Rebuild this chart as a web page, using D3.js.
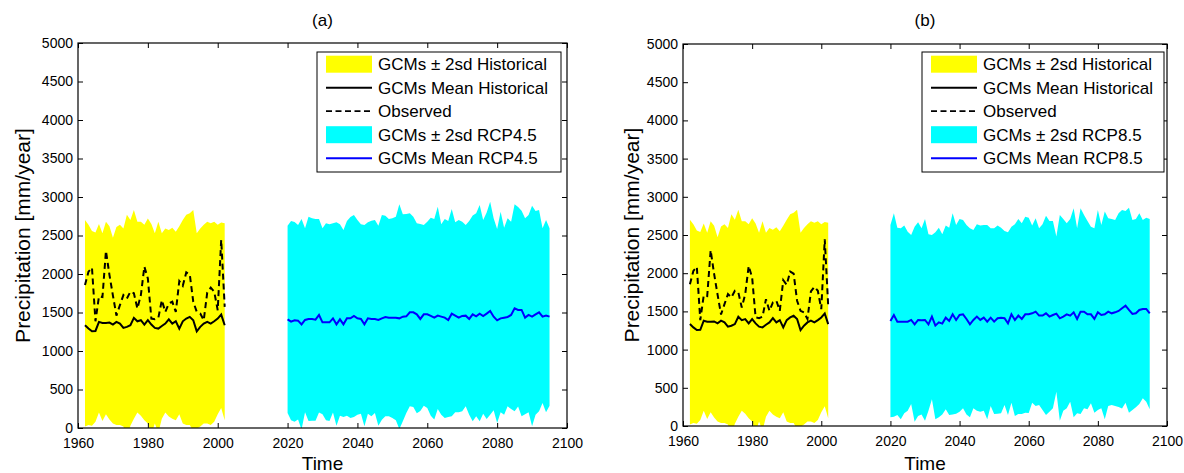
<!DOCTYPE html>
<html>
<head>
<meta charset="utf-8">
<script src="https://cdn.jsdelivr.net/npm/d3@7"></script>
<style>
  body { margin: 0; background: #fff; }
  text { font-family: "Liberation Sans", Arial, sans-serif; fill: #000; }
</style>
</head>
<body>
<div id="chart-container"></div>
<script>
// years: historical 1962-2002, projections 2020-2095
const histStart = 1962;
const futStart = 2020;

// historical (same in both panels)
const histUpper = [2700,2640,2560,2540,2650,2530,2680,2620,2470,2610,2640,
  2590,2770,2700,2830,2680,2680,2640,2720,2650,2530,
  2680,2530,2590,2570,2600,2550,2620,2700,2770,2790,
  2830,2530,2590,2640,2680,2660,2680,2640,2670,2660];
const histLower = [20,40,30,80,200,90,180,110,60,40,40,
  20,-120,30,120,200,160,100,60,-80,60,
  -60,120,200,150,120,100,180,60,40,40,
  -40,-10,20,60,60,40,80,180,260,100];
const histMean = [1334,1291,1256,1260,1378,1365,1365,1369,1343,1378,1356,
  1300,1313,1334,1430,1386,1400,1343,1400,1343,1300,
  1291,1325,1356,1412,1356,1386,1291,1386,1421,1443,
  1400,1256,1313,1356,1378,1356,1386,1421,1473,1334];
const observed = [1856,2030,2082,1386,1710,1700,2300,1990,1720,1460,1595,
  1726,1682,1770,1750,1552,1726,2095,1943,1421,1412,
  1430,1660,1508,1617,1640,1508,1908,1847,2021,1995,
  1640,1508,1487,1400,1761,1822,1770,1530,2443,1573];

// RCP4.5
const rcp45Upper = [2628,2688,2675,2636,2714,2593,2745,2723,2714,2714,
  2593,2658,2645,2660,2671,2645,2571,2688,2740,2766,
  2701,2645,2636,2671,2690,2701,2628,2766,2758,2714,
  2725,2745,2905,2775,2780,2788,2745,2658,2650,2636,
  2680,2732,2714,2874,2645,2714,2688,2844,2671,2701,
  2680,2636,2688,2760,2788,2896,2701,2800,2939,2723,
  2584,2809,2602,2723,2680,2905,2870,2820,2723,2766,
  2887,2818,2831,2593,2701,2593];
const rcp45Lower = [195,100,80,110,-20,203,90,95,95,200,
  180,100,90,200,30,160,143,160,130,143,
  173,186,22,186,152,195,30,108,152,152,
  130,100,-13,87,195,281,273,190,220,290,
  260,160,110,247,173,130,143,152,203,203,
  216,281,173,87,152,87,186,117,173,229,
  65,203,173,281,247,216,280,152,180,203,
  22,173,216,325,203,290];
const rcp45Mean = [1411,1381,1398,1394,1346,1403,1416,1416,1407,1468,
  1372,1372,1372,1424,1346,1411,1346,1424,1424,1455,
  1424,1416,1346,1424,1416,1416,1403,1424,1442,1433,
  1433,1433,1424,1446,1450,1502,1502,1476,1416,1476,
  1476,1455,1433,1459,1446,1433,1403,1485,1459,1433,
  1455,1459,1416,1476,1450,1485,1455,1485,1520,1446,
  1398,1424,1433,1442,1468,1554,1533,1533,1433,1468,
  1446,1476,1502,1446,1459,1446];

// RCP8.5
const rcp85Upper = [2631,2784,2596,2588,2623,2544,2500,2609,2666,2588,
  2710,2509,2500,2535,2596,2509,2623,2596,2784,2631,
  2710,2697,2631,2588,2566,2640,2623,2631,2631,2588,
  2588,2623,2596,2553,2535,2609,2640,2710,2653,2740,
  2727,2623,2719,2588,2640,2753,2684,2684,2479,2762,
  2710,2653,2710,2849,2588,2849,2762,2684,2609,2588,
  2828,2631,2806,2719,2710,2697,2784,2828,2815,2858,
  2697,2710,2784,2697,2727,2710];
const rcp85Lower = [113,122,144,87,166,200,288,57,130,150,
  70,200,349,87,115,150,218,144,150,160,
  188,231,150,113,231,200,188,200,87,262,
  157,160,166,275,144,305,131,157,157,175,
  170,305,262,275,209,144,188,231,449,70,
  200,231,318,113,166,157,231,218,297,175,
  209,231,87,262,275,262,250,230,305,175,
  209,244,288,362,318,218];
const rcp85Mean = [1375,1453,1366,1366,1366,1366,1388,1331,1388,1383,
  1388,1331,1432,1314,1357,1340,1418,1375,1462,1388,
  1453,1462,1401,1331,1388,1432,1388,1418,1366,1418,
  1366,1410,1418,1410,1344,1462,1388,1445,1401,1462,
  1462,1475,1497,1445,1445,1475,1432,1453,1471,1410,
  1432,1462,1445,1488,1401,1497,1497,1462,1462,1401,
  1488,1453,1462,1497,1475,1488,1506,1541,1576,1519,
  1466,1475,1519,1532,1532,1475];

const xTicks = [1960,1980,2000,2020,2040,2060,2080,2100];
const yTicks = [0,500,1000,1500,2000,2500,3000,3500,4000,4500,5000];

const panels = [
  {id:"a", title:"(a)", left:78, right:567, top:43, bottom:428, ylabX:23,
   legX:317, legW:244, scen:"RCP4.5", up:rcp45Upper, lo:rcp45Lower, mean:rcp45Mean},
  {id:"b", title:"(b)", left:683, right:1167, top:44, bottom:426, ylabX:632,
   legX:922, legW:242, scen:"RCP8.5", up:rcp85Upper, lo:rcp85Lower, mean:rcp85Mean}
];

const svg = d3.select("#chart-container")
  .append("svg")
  .attr("width", 1184)
  .attr("height", 473);

panels.forEach(p => {
  const x = d3.scaleLinear().domain([1960, 2100]).range([p.left, p.right]);
  const y = d3.scaleLinear().domain([0, 5000]).range([p.bottom, p.top]);

  const hist = histUpper.map((u, i) => ({year: histStart + i, up: u, lo: histLower[i], mean: histMean[i], obs: observed[i]}));
  const fut = p.up.map((u, i) => ({year: futStart + i, up: u, lo: p.lo[i], mean: p.mean[i]}));

  svg.append("clipPath").attr("id", "clip-" + p.id)
    .append("rect")
    .attr("x", p.left).attr("y", p.top)
    .attr("width", p.right - p.left).attr("height", p.bottom - p.top);

  const plot = svg.append("g").attr("clip-path", `url(#clip-${p.id})`);

  const area = d3.area()
    .x(d => x(d.year))
    .y0(d => y(d.lo))
    .y1(d => y(d.up));

  plot.append("path").datum(hist).attr("fill", "#ffff00").attr("d", area);
  plot.append("path").datum(fut).attr("fill", "#00ffff").attr("d", area);

  const meanLine = d3.line().x(d => x(d.year)).y(d => y(d.mean));
  const obsLine = d3.line().x(d => x(d.year)).y(d => y(d.obs));

  plot.append("path").datum(hist)
    .attr("fill", "none").attr("stroke", "#000").attr("stroke-width", 2)
    .attr("d", meanLine);
  plot.append("path").datum(hist)
    .attr("fill", "none").attr("stroke", "#000").attr("stroke-width", 2)
    .attr("stroke-dasharray", "6,4")
    .attr("d", obsLine);
  plot.append("path").datum(fut)
    .attr("fill", "none").attr("stroke", "#0000ff").attr("stroke-width", 2)
    .attr("d", meanLine);

  // axes, ticks pointing inward (matlab style)
  const styleAxis = g => {
    g.select(".domain").remove();
    g.selectAll(".tick line").attr("stroke", "#000");
    g.selectAll(".tick text").style("font-size", "14px").attr("fill", "#000")
      .style("font-family", '"Liberation Sans", Arial, sans-serif');
  };

  svg.append("g")
    .attr("transform", `translate(0,${p.bottom})`)
    .call(d3.axisBottom(x).tickValues(xTicks).tickFormat(d3.format("d"))
      .tickSizeInner(-5).tickSizeOuter(0).tickPadding(10))
    .call(styleAxis);
  svg.append("g")
    .attr("transform", `translate(0,${p.top})`)
    .call(d3.axisTop(x).tickValues(xTicks).tickFormat("")
      .tickSizeInner(-5).tickSizeOuter(0))
    .call(styleAxis);
  svg.append("g")
    .attr("transform", `translate(${p.left},0)`)
    .call(d3.axisLeft(y).tickValues(yTicks).tickFormat(d3.format("d"))
      .tickSizeInner(-5).tickSizeOuter(0).tickPadding(5))
    .call(styleAxis);
  svg.append("g")
    .attr("transform", `translate(${p.right},0)`)
    .call(d3.axisRight(y).tickValues(yTicks).tickFormat("")
      .tickSizeInner(-5).tickSizeOuter(0))
    .call(styleAxis);

  svg.append("rect")
    .attr("x", p.left).attr("y", p.top)
    .attr("width", p.right - p.left).attr("height", p.bottom - p.top)
    .attr("fill", "none").attr("stroke", "#000").attr("stroke-width", 1.2);

  // labels
  const cx = (p.left + p.right) / 2;
  svg.append("text").attr("x", cx).attr("y", 26)
    .attr("text-anchor", "middle").style("font-size", "17px").text(p.title);
  svg.append("text").attr("x", cx).attr("y", 470)
    .attr("text-anchor", "middle").style("font-size", "19px").text("Time");
  svg.append("text")
    .attr("transform", `translate(${p.ylabX},${(p.top + p.bottom) / 2}) rotate(-90)`)
    .attr("text-anchor", "middle").attr("dy", "0.35em")
    .style("font-size", "21px").text("Precipitation [mm/year]");

  // legend
  const leg = svg.append("g");
  leg.append("rect")
    .attr("x", p.legX).attr("y", 52)
    .attr("width", p.legW).attr("height", 120)
    .attr("fill", "#fff").attr("stroke", "#000").attr("stroke-width", 1);

  const items = [
    {label: "GCMs \u00b1 2sd Historical", type: "patch", color: "#ffff00"},
    {label: "GCMs Mean Historical", type: "line", color: "#000"},
    {label: "Observed", type: "dash", color: "#000"},
    {label: "GCMs \u00b1 2sd " + p.scen, type: "patch", color: "#00ffff"},
    {label: "GCMs Mean " + p.scen, type: "line", color: "#0000ff"}
  ];
  const sx = p.legX + 9;
  items.forEach((it, i) => {
    const ry = 64.2 + i * 23.5;
    if (it.type === "patch") {
      leg.append("rect").attr("x", sx).attr("y", ry - 8.5)
        .attr("width", 46).attr("height", 17).attr("fill", it.color);
    } else {
      leg.append("line").attr("x1", sx).attr("x2", sx + 46)
        .attr("y1", ry).attr("y2", ry)
        .attr("stroke", it.color).attr("stroke-width", it.type === "line" ? 2 : 1.8)
        .attr("stroke-dasharray", it.type === "dash" ? "6,3.5" : null);
    }
    leg.append("text").attr("x", sx + 52).attr("y", ry).attr("dy", "0.35em")
      .style("font-size", "17px").text(it.label);
  });
});
</script>
</body>
</html>
